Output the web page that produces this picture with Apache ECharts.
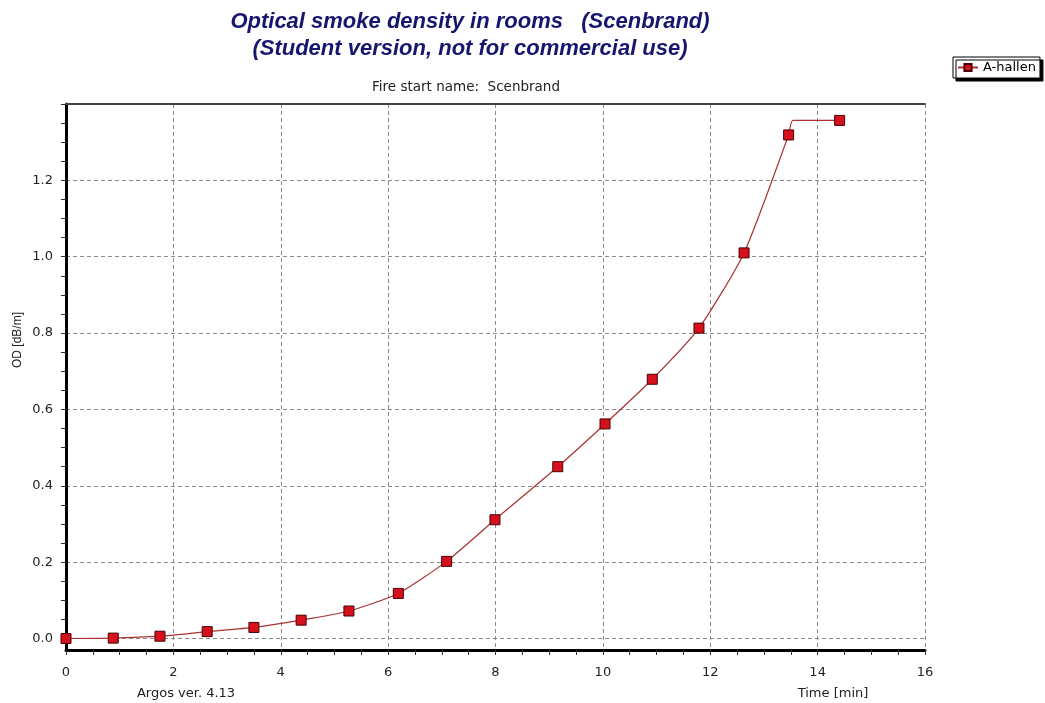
<!DOCTYPE html>
<html>
<head>
<meta charset="utf-8">
<script src="https://cdn.jsdelivr.net/npm/echarts@6/dist/echarts.min.js"></script>
<style>
html,body{margin:0;padding:0;background:#fff;}
#chart{width:1045px;height:703px;}
</style>
</head>
<body>
<div id="chart"></div>
<script>
// ---- data ----
const seriesName = 'A-hallen';
const timeMin = [0, 0.88, 1.75, 2.63, 3.50, 4.38, 5.27, 6.19, 7.09, 7.99, 9.16, 10.04, 10.92, 11.79, 12.63, 13.46, 13.54, 14.41];
const odValues = [0, 0.001, 0.006, 0.018, 0.029, 0.048, 0.072, 0.118, 0.202, 0.311, 0.450, 0.562, 0.679, 0.813, 1.010, 1.319, 1.357, 1.357];
const hasMarker = [true, true, true, true, true, true, true, true, true, true, true, true, true, true, true, true, false, true];

const titleText = 'Optical smoke density in rooms   (Scenbrand)\n(Student version, not for commercial use)';
const subtitleText = 'Fire start name:  Scenbrand';
const versionText = 'Argos ver. 4.13';
const xName = 'Time [min]';
const yName = 'OD [dB/m]';

const FONT = '"Liberation Sans", Arial, sans-serif';
const WIDE = '"DejaVu Sans", Verdana, sans-serif';
const gridColor = '#8a8a8a';

const lineData = timeMin.map((t, i) => {
  const item = { value: [t, odValues[i]] };
  if (!hasMarker[i]) item.symbol = 'none';
  return item;
});

const chart = echarts.init(document.getElementById('chart'), null, { renderer: 'canvas' });
chart.setOption({
  backgroundColor: '#ffffff',
  animation: false,
  textStyle: { fontFamily: WIDE },
  title: [
    { text: titleText, left: 465, top: 3, textAlign: 'center',
      textStyle: { fontFamily: FONT, fontSize: 22, fontWeight: 'bold', fontStyle: 'italic', color: '#16166e', lineHeight: 27 } },
    { text: subtitleText, left: 461, top: 75, textAlign: 'center',
      textStyle: { fontFamily: WIDE, fontSize: 13.5, fontWeight: 'normal', color: '#222' } },
    { text: versionText, left: 181, top: 682, textAlign: 'center',
      textStyle: { fontFamily: WIDE, fontSize: 13, fontWeight: 'normal', color: '#222' } },
    { text: xName, left: 828, top: 682, textAlign: 'center',
      textStyle: { fontFamily: WIDE, fontSize: 13, fontWeight: 'normal', color: '#222' } }
  ],
  graphic: [
    { type: 'text', x: 18, y: 340, rotation: Math.PI / 2,
      style: { text: yName, font: '12px "Liberation Sans", Arial, sans-serif', fill: '#222',
        align: 'center', verticalAlign: 'middle' } }
  ],
  legend: {
    left: 953, top: 57,
    orient: 'vertical',
    data: [seriesName],
    itemWidth: 20, itemHeight: 9, itemGap: 4,
    padding: [4, 4, 4, 4],
    backgroundColor: '#fff',
    borderColor: '#000', borderWidth: 1, borderRadius: 0,
    shadowColor: '#000', shadowBlur: 0, shadowOffsetX: 3, shadowOffsetY: 3,
    textStyle: { fontFamily: WIDE, fontSize: 13, color: '#000' }
  },
  grid: [
    { left: 66, right: 120, top: 104, bottom: 53, containLabel: false },
    { left: 66, right: 120, top: 104, bottom: 64.5, containLabel: false }
  ],
  xAxis: [
    { type: 'value', gridIndex: 0, min: 0, max: 16, interval: 2, position: 'bottom',
      axisLine: { show: true, onZero: false, lineStyle: { color: '#000', width: 3 } },
      axisTick: { show: true, inside: false, length: 5, lineStyle: { color: '#333', width: 1 } },
      minorTick: { show: true, splitNumber: 4, length: 5, lineStyle: { color: '#333', width: 1 } },
      axisLabel: { show: true, margin: 16, fontFamily: WIDE, fontSize: 13, color: '#222' },
      splitLine: { show: true, lineStyle: { color: gridColor, type: [4, 3], width: 1 } }
    },
    { type: 'value', gridIndex: 1, min: 0, max: 16, show: false },
    { type: 'value', gridIndex: 0, min: 0, max: 16, position: 'top',
      axisLine: { show: true, onZero: false, lineStyle: { color: '#444', width: 2 } },
      axisTick: { show: false }, axisLabel: { show: false }, splitLine: { show: false } }
  ],
  yAxis: [
    { type: 'value', gridIndex: 0, min: -0.03, max: 1.4,
      axisLine: { show: true, onZero: false, lineStyle: { color: '#000', width: 3 } },
      axisTick: { show: false }, axisLabel: { show: false }, splitLine: { show: false } },
    { type: 'value', gridIndex: 1, min: 0, max: 1.4, interval: 0.2,
      axisLine: { show: false, onZero: false },
      axisTick: { show: true, inside: false, length: 5, lineStyle: { color: '#333', width: 1 } },
      minorTick: { show: true, splitNumber: 4, length: 5, lineStyle: { color: '#333', width: 1 } },
      axisLabel: { show: true, margin: 13, fontFamily: WIDE, fontSize: 13, color: '#222',
        showMaxLabel: false, formatter: v => v.toFixed(1) },
      splitLine: { show: true, lineStyle: { color: gridColor, type: [4, 3], width: 1 } }
    }
  ],
  series: [
    { name: seriesName, type: 'line', xAxisIndex: 1, yAxisIndex: 1,
      data: lineData,
      smooth: 0.2,
      clip: false,
      symbol: 'rect', symbolSize: 10, showSymbol: true,
      lineStyle: { color: '#a83232', width: 1.2 },
      itemStyle: { color: '#d4111c', borderColor: '#4a0000', borderWidth: 1 },
      z: 5
    }
  ]
});
</script>
</body>
</html>
